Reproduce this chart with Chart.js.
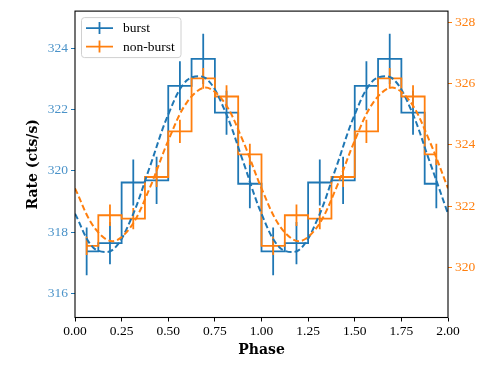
<!DOCTYPE html>
<html>
<head>
<meta charset="utf-8">
<script src="https://cdn.jsdelivr.net/npm/chart.js@4.4.0/dist/chart.umd.min.js"></script>
<style>
    html, body { margin: 0; padding: 0; background: #fff; }
    #wrap { width: 498px; height: 374px; }
</style>
</head>
<body>
<div id="wrap"><canvas id="c1" width="498" height="374"></canvas></div>
<script>
/* ── Data ─────────────────────────────────────────────────── */
const binPhase = [0.0625, 0.1875, 0.3125, 0.4375, 0.5625, 0.6875, 0.8125, 0.9375,
                  1.0625, 1.1875, 1.3125, 1.4375, 1.5625, 1.6875, 1.8125, 1.9375];

const burstRate = [317.37, 317.64, 319.62, 319.69, 322.78, 323.66, 321.90, 319.58,
                   317.37, 317.64, 319.62, 319.69, 322.78, 323.66, 321.90, 319.58];
const burstErr  = [0.78, 0.69, 0.75, 0.77, 0.80, 0.82, 0.72, 0.80,
                   0.78, 0.69, 0.75, 0.77, 0.80, 0.82, 0.72, 0.80];

const quietRate = [320.70, 321.70, 321.59, 322.95, 324.44, 326.17, 325.58, 323.69,
                   320.70, 321.70, 321.59, 322.95, 324.44, 326.17, 325.58, 323.69];
const quietErr  = [0.30, 0.35, 0.35, 0.33, 0.38, 0.34, 0.37, 0.35,
                   0.30, 0.35, 0.35, 0.33, 0.38, 0.34, 0.37, 0.35];

const fitPhase = [0.0, 0.1, 0.2, 0.3, 0.4, 0.5, 0.6, 0.7, 0.8, 0.9, 1.0,
                  1.1, 1.2, 1.3, 1.4, 1.5, 1.6, 1.7, 1.8, 1.9, 2.0];
const burstFit = [318.60, 317.48, 317.41, 318.42, 320.11, 321.84, 322.96, 323.03, 322.02, 320.33, 318.60,
                  317.48, 317.41, 318.42, 320.11, 321.84, 322.96, 323.03, 322.02, 320.33, 318.60];
const quietFit = [322.58, 321.33, 320.85, 321.33, 322.58, 324.14, 325.39, 325.87, 325.39, 324.14, 322.58,
                  321.33, 320.85, 321.33, 322.58, 324.14, 325.39, 325.87, 325.39, 324.14, 322.58];

const xTicks      = [0, 0.25, 0.5, 0.75, 1, 1.25, 1.5, 1.75, 2];
const yLeftTicks  = [316, 318, 320, 322, 324];
const yRightTicks = [320, 322, 324, 326, 328];

/* ── Style ────────────────────────────────────────────────── */
const BLUE   = '#1f77b4';
const ORANGE = '#ff7f0e';
const SERIF  = "'Liberation Serif', 'Times New Roman', serif";
const TICK_FONT  = { family: SERIF, size: 13.5 };
const TITLE_FONT = { family: "'DejaVu Serif', serif", size: 14, weight: 'bold' };

function xy(xs, ys) {
    return xs.map(function (x, i) { return { x: x, y: ys[i] }; });
}

// vertical error bars, one segment per bin, broken by nulls
function errSegments(xs, ys, es) {
    const pts = [];
    xs.forEach(function (x, i) {
        pts.push({ x: x, y: ys[i] - es[i] }, { x: x, y: ys[i] + es[i] }, { x: x, y: null });
    });
    return pts;
}

function fixedTicks(list) {
    return function (scale) { scale.ticks = list.map(function (v) { return { value: v }; }); };
}

/* ── Plugins: axes frame + in-plot legend ─────────────────── */
const frame = {
    id: 'frame',
    afterDatasetsDraw(chart) {
        const a = chart.chartArea, ctx = chart.ctx;
        ctx.save();
        ctx.strokeStyle = '#000';
        ctx.lineWidth = 1.1;
        ctx.strokeRect(a.left, a.top, a.right - a.left, a.bottom - a.top);
        ctx.restore();
    },
};

const legendBox = {
    id: 'legendBox',
    afterDatasetsDraw(chart) {
        const a = chart.chartArea, ctx = chart.ctx;
        const x0 = a.left + 6.5, y0 = a.top + 6.5, w = 99.5, h = 40;
        const items = chart.data.datasets
            .filter(function (d) { return d.legendRank !== undefined; })
            .sort(function (p, q) { return p.legendRank - q.legendRank; });

        ctx.save();
        ctx.beginPath();
        ctx.roundRect(x0, y0, w, h, 3);
        ctx.fillStyle = 'rgba(255,255,255,0.85)';
        ctx.fill();
        ctx.strokeStyle = '#d0d0d0';
        ctx.lineWidth = 1;
        ctx.stroke();

        items.forEach(function (d, i) {
            const cy = y0 + 10.5 + i * 18.5;
            ctx.strokeStyle = d.borderColor;
            ctx.lineWidth = 1.8;
            ctx.beginPath();
            ctx.moveTo(x0 + 4.5, cy);
            ctx.lineTo(x0 + 31.5, cy);
            ctx.moveTo(x0 + 18, cy - 6);
            ctx.lineTo(x0 + 18, cy + 6);
            ctx.stroke();

            ctx.fillStyle = '#000';
            ctx.font = '13.5px ' + SERIF;
            ctx.textBaseline = 'middle';
            ctx.fillText(d.label, x0 + 41.5, cy + 0.5);
        });
        ctx.restore();
    },
};

/* ── Chart ────────────────────────────────────────────────── */
new Chart(document.getElementById('c1'), {
    type : 'line',
    data : {
        datasets : [
            {
                label       : 'non-burst fit',
                data        : xy(fitPhase, quietFit),
                yAxisID     : 'y1',
                borderColor : ORANGE,
                borderWidth : 2,
                borderDash  : [6, 3],
                tension     : 0.35,
                pointRadius : 0,
            },
            {
                label       : 'burst fit',
                data        : xy(fitPhase, burstFit),
                yAxisID     : 'y',
                borderColor : BLUE,
                borderWidth : 2,
                borderDash  : [6, 3],
                tension     : 0.35,
                pointRadius : 0,
            },
            {
                label       : 'non-burst err',
                data        : errSegments(binPhase, quietRate, quietErr),
                yAxisID     : 'y1',
                borderColor : ORANGE,
                borderWidth : 1.8,
                spanGaps    : false,
                pointRadius : 0,
            },
            {
                label       : 'non-burst',
                legendRank  : 1,
                data        : xy(binPhase, quietRate),
                yAxisID     : 'y1',
                borderColor : ORANGE,
                borderWidth : 1.8,
                stepped     : 'middle',
                pointRadius : 0,
            },
            {
                label       : 'burst err',
                data        : errSegments(binPhase, burstRate, burstErr),
                yAxisID     : 'y',
                borderColor : BLUE,
                borderWidth : 1.8,
                spanGaps    : false,
                pointRadius : 0,
            },
            {
                label       : 'burst',
                legendRank  : 0,
                data        : xy(binPhase, burstRate),
                yAxisID     : 'y',
                borderColor : BLUE,
                borderWidth : 1.8,
                stepped     : 'middle',
                pointRadius : 0,
            },
        ],
    },
    options : {
        responsive : false,
        animation  : false,
        devicePixelRatio : 1,
        layout  : { padding: { top: 3.5, left: 0, right: 0, bottom: 0 } },
        plugins : {
            legend  : { display: false },
            tooltip : { enabled: false },
        },
        scales : {
            x : {
                type : 'linear',
                min  : 0,
                max  : 2,
                afterBuildTicks : fixedTicks(xTicks),
                afterFit : function (s) { s.height = 56.5; },
                ticks  : {
                    callback    : function (v) { return Number(v).toFixed(2); },
                    color       : '#000',
                    font        : TICK_FONT,
                    padding     : 2,
                    maxRotation : 0,
                    autoSkip    : false,
                },
                grid   : { drawOnChartArea: false, tickLength: 4, tickColor: '#000' },
                border : { display: false },
                title  : {
                    display : true,
                    text    : 'Phase',
                    color   : '#000',
                    font    : TITLE_FONT,
                    padding : { top: 0, bottom: 15 },
                },
            },
            y : {
                position : 'left',
                min : 315.21,
                max : 325.22,
                afterBuildTicks : fixedTicks(yLeftTicks),
                afterFit : function (s) { s.width = 75; },
                ticks  : { color: '#4b93c9', font: TICK_FONT, padding: 3 },
                grid   : { drawOnChartArea: false, tickLength: 4, tickColor: BLUE },
                border : { display: false },
                title  : {
                    display : true,
                    text    : 'Rate (cts/s)',
                    color   : '#000',
                    font    : TITLE_FONT,
                    padding : { top: 25, bottom: 0 },
                },
            },
            y1 : {
                position : 'right',
                min : 318.36,
                max : 328.37,
                afterBuildTicks : fixedTicks(yRightTicks),
                afterFit : function (s) { s.width = 50; },
                ticks  : { color: ORANGE, font: TICK_FONT, padding: 3 },
                grid   : { drawOnChartArea: false, tickLength: 4, tickColor: ORANGE },
                border : { display: false },
            },
        },
    },
    plugins : [frame, legendBox],
});
</script>
</body>
</html>
